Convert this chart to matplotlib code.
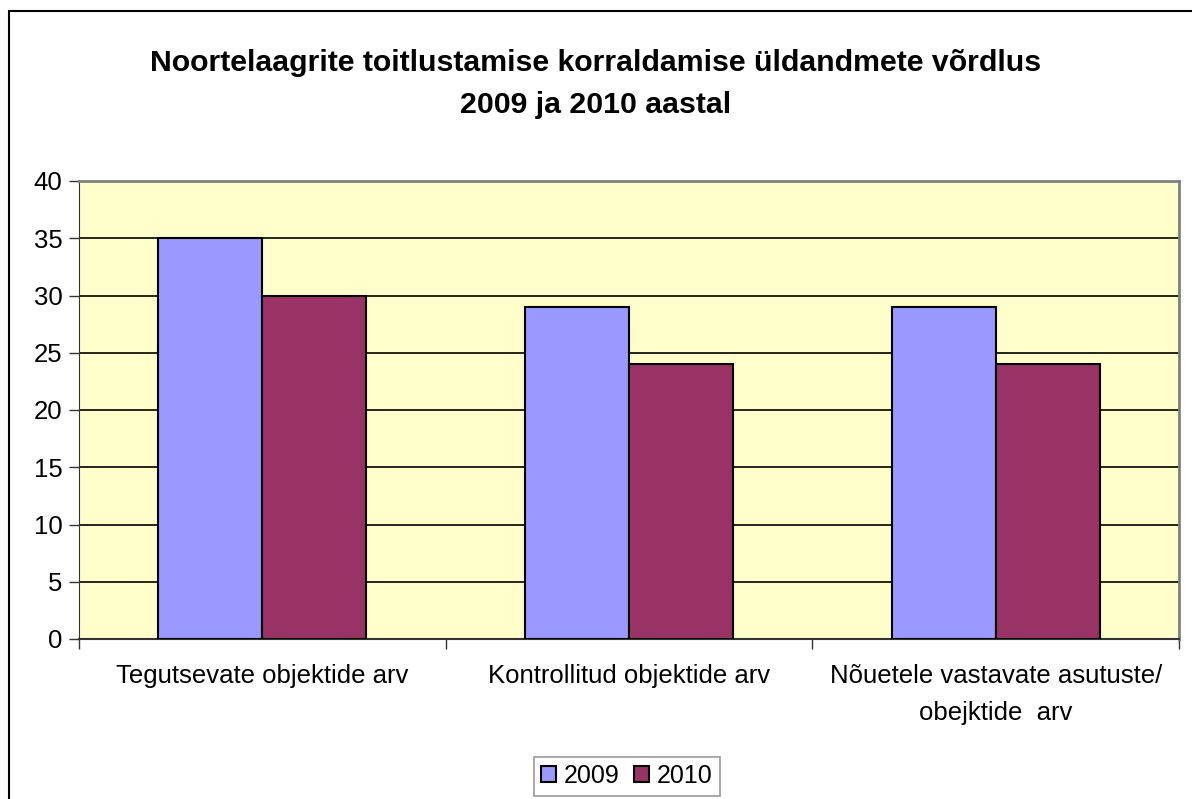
import matplotlib.pyplot as plt
import numpy as np
from matplotlib.patches import Rectangle

# chart data
categories = ['Tegutsevate objektide arv',
              'Kontrollitud objektide arv',
              'Nõuetele vastavate asutuste/\nobejktide  arv']
years = ['2009', '2010']
values_2009 = [35, 29, 29]
values_2010 = [30, 24, 24]
colors = ['#9999FF', '#993366']

plt.rcParams['font.family'] = ['Liberation Sans', 'DejaVu Sans']

fig = plt.figure(figsize=(11.92, 7.99), dpi=100)
W, H = 1192.0, 799.0

# outer chart border (left and top visible)
fig.patches.append(Rectangle((9 / W, -0.1), 1.2, 1 - 11 / H + 0.1,
                             transform=fig.transFigure, fill=False,
                             edgecolor='black', linewidth=1.5))

ax = fig.add_axes([79 / W, 1 - 639 / H, 1100 / W, 458 / H])
ax.set_facecolor('#FFFFCC')

x = np.arange(len(categories))
bw = 0.284
ax.bar(x - bw / 2, values_2009, bw, color=colors[0], edgecolor='black',
       linewidth=1.5, label=years[0], zorder=3)
ax.bar(x + bw / 2, values_2010, bw, color=colors[1], edgecolor='black',
       linewidth=1.5, label=years[1], zorder=3)

ax.set_xlim(-0.5, len(categories) - 0.5)
ax.set_ylim(0, 40)
ax.set_yticks(range(0, 41, 5))
ax.yaxis.grid(True, color='black', linewidth=1.2, zorder=1)
ax.set_axisbelow(True)

ax.set_xticks(x)
ax.set_xticklabels(categories, fontsize=18.5, linespacing=1.7)
ax.set_xticks(np.arange(-0.5, len(categories), 1), minor=True)
ax.tick_params(axis='x', which='major', length=0, pad=18)
ax.tick_params(axis='x', which='minor', length=7, width=1, color='#333333')
ax.tick_params(axis='y', labelsize=18.5, length=7, width=1, color='#333333', pad=5)

ax.spines['top'].set_color('#808080')
ax.spines['right'].set_color('#808080')
ax.spines['top'].set_linewidth(2)
ax.spines['right'].set_linewidth(2)
ax.spines['left'].set_color('#333333')
ax.spines['bottom'].set_color('#333333')
ax.spines['bottom'].set_linewidth(1.5)

fig.text(596 / W, 1 - 84 / H,
         'Noortelaagrite toitlustamise korraldamise üldandmete võrdlus\n2009 ja 2010 aastal',
         ha='center', va='center', fontsize=21.8, fontweight='bold', linespacing=1.62)

leg = fig.legend(loc='center', bbox_to_anchor=(627 / W, 1 - 776 / H), ncol=2,
                 fontsize=18, frameon=True, fancybox=False, edgecolor='#808080',
                 handlelength=0.6, handleheight=0.6, handletextpad=0.3,
                 columnspacing=0.6, borderpad=0.3)
leg.get_frame().set_linewidth(1.2)

fig.savefig('out.png', dpi=100)
